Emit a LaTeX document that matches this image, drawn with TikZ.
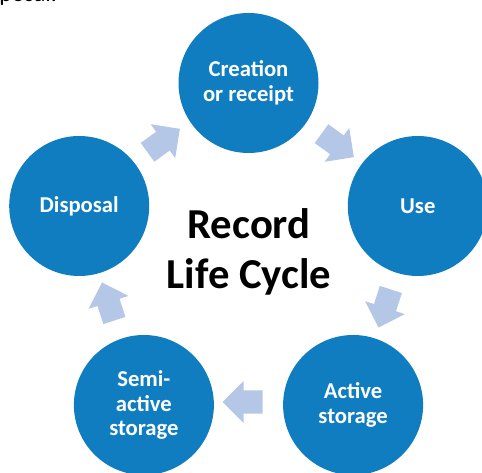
\documentclass[tikz,border=0pt]{standalone}
\usepackage{fontspec}
\setmainfont{Carlito}
\usetikzlibrary{shapes.arrows}
\definecolor{cycleblue}{RGB}{15,125,192}
\definecolor{arrowblue}{RGB}{180,199,231}
\begin{document}
\begin{tikzpicture}[x=0.75pt,y=-0.75pt,
  stage/.style={circle, fill=cycleblue, text=white, minimum size=105pt,
    inner sep=0pt, align=center, font=\bfseries\fontsize{17}{18.5}\selectfont},
  cyclearrow/.style={single arrow, fill=arrowblue, draw=none,
    minimum height=30pt, inner xsep=0pt, inner ysep=8.5pt,
    single arrow head extend=7pt, anchor=center}]
\useasboundingbox (0,0) rectangle (482,473);
\clip (0,0) rectangle (482,473);
% cropped text at the top edge
\node[anchor=base west, inner sep=0pt, font=\fontsize{18}{20}\selectfont] (cut) at (-1,1.5) {posal.};
% stages
\node[stage] (create) at (248.5,83) {Creation\\or receipt};
\node[stage] (use) at (417.8,206) {Use};
\node[stage] (active) at (353.1,405) {Active\\storage};
\node[stage] (semi) at (143.9,405) {Semi-\\active\\storage};
\node[stage] (disp) at (79.2,206) {Disposal};
% centre label
\node[align=center, inner sep=0pt, font=\bfseries\fontsize{32}{37}\selectfont] (title) at (249,252) {Record\\Life Cycle};
% arrows
\node[cyclearrow, rotate=-36] (a1) at (333,142) {};
\node[cyclearrow, rotate=-108] (a2) at (386.5,303) {};
\node[cyclearrow, rotate=180] (a3) at (248.5,402) {};
\node[cyclearrow, rotate=108] (a4) at (110,307) {};
\node[cyclearrow, rotate=36] (a5) at (159,144) {};
\end{tikzpicture}
\end{document}
